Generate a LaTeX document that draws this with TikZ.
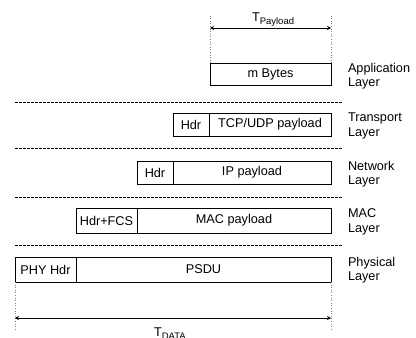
\documentclass[tikz,border=0pt]{standalone}
\usepackage{fontspec}
\setmainfont{Liberation Sans}
\usetikzlibrary{arrows.meta}
\newcommand{\tsub}[1]{T\raisebox{-3.5pt}{\fontsize{9.5}{10}\selectfont #1}}

\begin{document}
\begin{tikzpicture}[x=1pt,y=-1pt,
    every node/.style={font=\fontsize{12.7}{14.5}\selectfont, inner sep=0pt, outer sep=0pt},
    seg/.style={draw, line width=0.8pt, anchor=north west},
    layer/.style={anchor=west, align=left},
    sep/.style={line width=0.7pt, dash pattern=on 3pt off 1pt},
    guide/.style={gray, line width=0.6pt, dotted},
    span/.style={{Stealth[length=4pt,width=4pt]}-{Stealth[length=4pt,width=4pt]}, line width=0.8pt}]
            \useasboundingbox (0,0) rectangle (416,338);
            % application
            \node[seg, minimum width=121pt, minimum height=22pt] (app) at (210,63) {m Bytes};
            \node[layer] (appL) at (348,76) {Application\\Layer};
            % transport
            \node[seg, minimum width=36pt, minimum height=23pt] (tHdr) at (173,113) {Hdr};
            \node[seg, minimum width=122pt, minimum height=23pt] (tPay) at (209,113) {TCP/UDP payload};
            \node[layer] (tL) at (348,126) {Transport\\Layer};
            % network
            \node[seg, minimum width=36pt, minimum height=23pt] (nHdr) at (137,161) {Hdr};
            \node[seg, minimum width=158pt, minimum height=23pt] (nPay) at (173,161) {IP payload};
            \node[layer] (nL) at (348,174) {Network\\Layer};
            % mac
            \node[seg, minimum width=61pt, minimum height=25pt] (mHdr) at (76,208) {Hdr+FCS};
            \node[seg, minimum width=194pt, minimum height=25pt] (mPay) at (137,208) {MAC payload};
            \node[layer] (mL) at (348,222) {MAC\\Layer};
            % physical
            \node[seg, minimum width=61pt, minimum height=25pt] (pHdr) at (15,257) {PHY Hdr};
            \node[seg, minimum width=255pt, minimum height=25pt] (psdu) at (76,257) {PSDU};
            \node[layer] (pL) at (348,270) {Physical\\Layer};

            \foreach \y in {102,148,197,245}
                \draw[sep] (15,\y) -- (343,\y);

            % payload time
            \coordinate (plTop) at (210,15);
            \coordinate (prTop) at (331,15);
            \coordinate (plA) at (210,28);
            \coordinate (prA) at (331,28);
            \draw[guide] (app.north west) -- (plTop);
            \draw[guide] (app.north east) -- (prTop);
            \draw[span] (plA) -- (prA);
            \node[anchor=base west] (tPayload) at (252,21) {\tsub{Payload}};

            % data time
            \coordinate (dlBot) at (15,331);
            \coordinate (drBot) at (331,331);
            \coordinate (dlA) at (15,318);
            \coordinate (drA) at (331,318);
            \draw[guide] (pHdr.south west) -- (dlBot);
            \draw[guide] (psdu.south east) -- (drBot);
            \draw[span] (dlA) -- (drA);
            \node[anchor=base west] (tData) at (154,336) {\tsub{DATA}};
        \end{tikzpicture}
\end{document}
